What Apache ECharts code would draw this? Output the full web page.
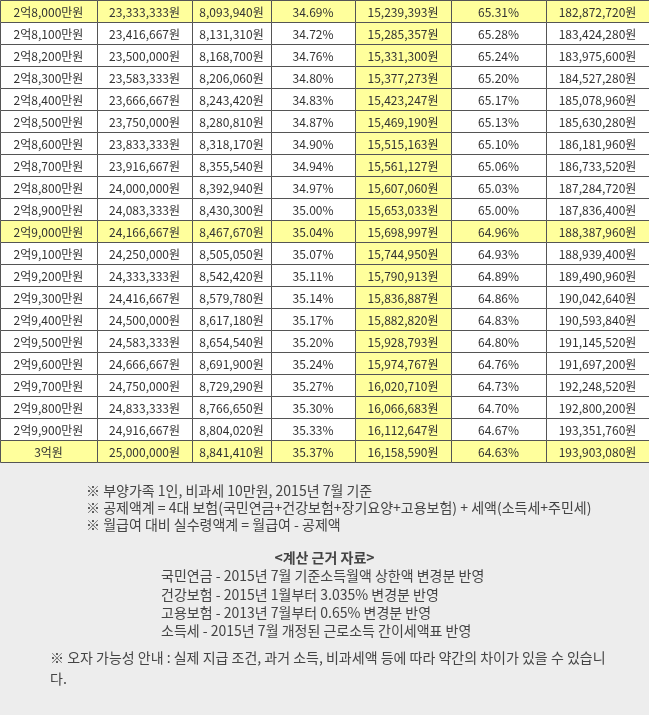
<!DOCTYPE html>
<html><head><meta charset="utf-8">
<script src="https://cdn.jsdelivr.net/npm/echarts@6/dist/echarts.min.js"></script>
<style>html,body{margin:0;padding:0;background:#ededed}#c{width:649px;height:715px}</style>
</head><body><div id="c"></div>
<script>
var annual = ['2억8,000만원','2억8,100만원','2억8,200만원','2억8,300만원','2억8,400만원','2억8,500만원','2억8,600만원','2억8,700만원','2억8,800만원','2억8,900만원','2억9,000만원','2억9,100만원','2억9,200만원','2억9,300만원','2억9,400만원','2억9,500만원','2억9,600만원','2억9,700만원','2억9,800만원','2억9,900만원','3억원'];
var monthly = ['23,333,333원','23,416,667원','23,500,000원','23,583,333원','23,666,667원','23,750,000원','23,833,333원','23,916,667원','24,000,000원','24,083,333원','24,166,667원','24,250,000원','24,333,333원','24,416,667원','24,500,000원','24,583,333원','24,666,667원','24,750,000원','24,833,333원','24,916,667원','25,000,000원'];
var deduct = ['8,093,940원','8,131,310원','8,168,700원','8,206,060원','8,243,420원','8,280,810원','8,318,170원','8,355,540원','8,392,940원','8,430,300원','8,467,670원','8,505,050원','8,542,420원','8,579,780원','8,617,180원','8,654,540원','8,691,900원','8,729,290원','8,766,650원','8,804,020원','8,841,410원'];
var deductPct = ['34.69%','34.72%','34.76%','34.80%','34.83%','34.87%','34.90%','34.94%','34.97%','35.00%','35.04%','35.07%','35.11%','35.14%','35.17%','35.20%','35.24%','35.27%','35.30%','35.33%','35.37%'];
var net = ['15,239,393원','15,285,357원','15,331,300원','15,377,273원','15,423,247원','15,469,190원','15,515,163원','15,561,127원','15,607,060원','15,653,033원','15,698,997원','15,744,950원','15,790,913원','15,836,887원','15,882,820원','15,928,793원','15,974,767원','16,020,710원','16,066,683원','16,112,647원','16,158,590원'];
var netPct = ['65.31%','65.28%','65.24%','65.20%','65.17%','65.13%','65.10%','65.06%','65.03%','65.00%','64.96%','64.93%','64.89%','64.86%','64.83%','64.80%','64.76%','64.73%','64.70%','64.67%','64.63%'];
var netAnnual = ['182,872,720원','183,424,280원','183,975,600원','184,527,280원','185,078,960원','185,630,280원','186,181,960원','186,733,520원','187,284,720원','187,836,400원','188,387,960원','188,939,400원','189,490,960원','190,042,640원','190,593,840원','191,145,520원','191,697,200원','192,248,520원','192,800,200원','193,351,760원','193,903,080원'];
var highlightRows = [0,10,20];
var highlightCol = 4;
var notes1 = ['※ 부양가족 1인, 비과세 10만원, 2015년 7월 기준','※ 공제액계 = 4대 보험(국민연금+건강보험+장기요양+고용보험) + 세액(소득세+주민세)','※ 월급여 대비 실수령액계 = 월급여 - 공제액'];
var notesTitle = '<계산 근거 자료>';
var notes2 = ['국민연금 - 2015년 7월 기준소득월액 상한액 변경분 반영','건강보험 - 2015년 1월부터 3.035% 변경분 반영','고용보험 - 2013년 7월부터 0.65% 변경분 반영','소득세 - 2015년 7월 개정된 근로소득 간이세액표 반영'];
var notes3 = ['※ 오자 가능성 안내 : 실제 지급 조건, 과거 소득, 비과세액 등에 따라 약간의 차이가 있을 수 있습니','다.'];

var cols = [annual, monthly, deduct, deductPct, net, netPct, netAnnual];
var edges = [0,97,192,271,355,451,546,649];
var rows = annual.map(function(_,i){return String(i);});
var data = [];
for (var r=0;r<annual.length;r++) for (var c=0;c<cols.length;c++) data.push([c,r]);

var FONT = '"Noto Sans CJK KR", sans-serif';
var NF = '14px '+FONT;
var chart = echarts.init(document.getElementById('c'));
var graphics = [];
notes1.forEach(function(t,i){graphics.push({type:'text',left:86,top:484+i*17,style:{text:t,font:NF,fill:'#444'}});});
graphics.push({type:'text',left:'center',top:551,style:{text:notesTitle,font:'bold 14px '+FONT,fill:'#444'}});
notes2.forEach(function(t,i){graphics.push({type:'text',left:161,top:569+i*18.3,style:{text:t,font:NF,fill:'#444'}});});
notes3.forEach(function(t,i){graphics.push({type:'text',left:50,top:651+i*21,style:{text:t,font:NF,fill:'#444'}});});

chart.setOption({
  animation:false,
  backgroundColor:'#ededed',
  graphic: graphics,
  grid:{left:0,right:0,top:0,height:462},
  xAxis:{type:'value',min:0,max:649,show:false},
  yAxis:{type:'category',data:rows,inverse:true,show:false},
  series:[{
    type:'custom',
    data:data,
    renderItem:function(params,api){
      var c=api.value(0), r=api.value(1);
      var p0=api.coord([edges[c],r]), p1=api.coord([edges[c+1],r]);
      var h=api.size([0,1])[1];
      var y=p0[1]-h/2;
      var yel = (c===highlightCol || highlightRows.indexOf(r)>=0);
      return {type:'group',children:[
        {type:'rect',shape:{x:p0[0]+0.5,y:y+0.5,width:p1[0]-p0[0],height:h},
         style:{fill:yel?'#ffff9c':'#ffffff',stroke:'#555',lineWidth:1}},
        {type:'text',style:{text:cols[c][r],x:(p0[0]+p1[0])/2,y:y+h/2+1,align:'center',verticalAlign:'middle',font:'12px '+FONT,fill:'#333'}}
      ]};
    }
  }]
});
</script></body></html>
